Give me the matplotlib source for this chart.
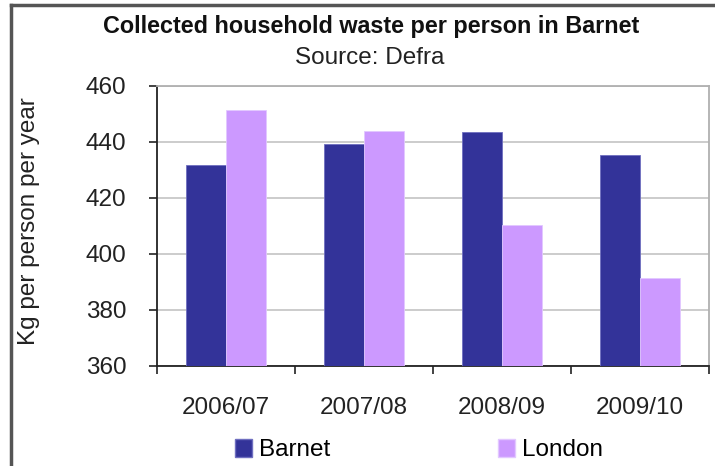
import numpy as np
import matplotlib.pyplot as plt
from matplotlib.patches import Patch
from matplotlib.lines import Line2D

plt.rcParams['font.family'] = ['Liberation Sans', 'DejaVu Sans']

# household waste, kg per person per year
years = ['2006/07', '2007/08', '2008/09', '2009/10']
barnet = [431.9, 439.4, 443.7, 435.5]
london = [451.5, 444.1, 410.3, 391.3]

col_barnet = '#333399'
col_london = '#cc99ff'
fs = 17.5

fig = plt.figure(figsize=(7.15, 4.66), dpi=100)
ax = fig.add_axes([157 / 715, 100 / 466, 552 / 715, 280 / 466])

x = np.arange(len(years))
w = 0.29
ax.bar(x - w / 2, barnet, w, bottom=0, color=col_barnet, edgecolor='#6f6fc0', linewidth=0.6, zorder=3)
ax.bar(x + w / 2, london, w, bottom=0, color=col_london, edgecolor='#e2c8ff', linewidth=0.6, zorder=3)

ax.set_xlim(-0.5, len(years) - 0.5)
ax.set_ylim(360, 460)
ax.set_yticks(np.arange(360, 461, 20))
ax.yaxis.grid(True, color='#c8c8c8', linewidth=1.3, zorder=0)

# ticks sit on the category boundaries, labels in the middle
ax.set_xticks(np.arange(-0.5, len(years), 1.0))
ax.set_xticklabels([])
ax.set_xticks(x, minor=True)
ax.set_xticklabels(years, minor=True, fontsize=fs)
ax.tick_params(axis='x', which='major', direction='out', length=6, width=1.2, color='#222222')
ax.tick_params(axis='x', which='minor', length=0, pad=22)
ax.tick_params(axis='y', direction='out', length=6, width=1.2, color='#222222', labelsize=fs, pad=16)
for lab in ax.get_yticklabels() + ax.get_xticklabels(minor=True):
    lab.set_color('#222222')

ax.spines['left'].set_color('#222222')
ax.spines['left'].set_linewidth(1.3)
ax.spines['bottom'].set_color('#222222')
ax.spines['bottom'].set_linewidth(1.3)
ax.spines['top'].set_color('#b0b0b0')
ax.spines['top'].set_linewidth(1.3)
ax.spines['right'].set_color('#b0b0b0')
ax.spines['right'].set_linewidth(1.3)

fig.text(371 / 715, 1 - 32.7 / 466, 'Collected household waste per person in Barnet',
         ha='center', va='baseline', fontsize=16.8, fontweight='bold', color='#111111')
fig.text(370 / 715, 1 - 64 / 466, 'Source: Defra',
         ha='center', va='baseline', fontsize=fs, color='#222222')
fig.text(29.5 / 715, 1 - 221 / 466, 'Kg per person per year',
         ha='center', va='center', rotation=90, fontsize=fs, color='#222222')

handles = [Patch(facecolor=col_barnet, edgecolor='#6f6fc0', label='Barnet'),
           Patch(facecolor=col_london, edgecolor='#e2c8ff', label='London')]
fig.legend(handles=handles, loc='center left', bbox_to_anchor=(234.6 / 715, 1 - 450 / 466),
           ncol=2, frameon=False, fontsize=fs, handlelength=0.7, handleheight=0.75,
           handletextpad=0.3, columnspacing=6.9, borderpad=0, borderaxespad=0)

# outer chart border (left and top edges)
fig.add_artist(Line2D([11 / 715, 11 / 715], [0, 1 - 5 / 466], color='#555555', linewidth=2.5))
fig.add_artist(Line2D([11 / 715, 1], [1 - 5 / 466, 1 - 5 / 466], color='#555555', linewidth=2.5))

fig.savefig('out.png', dpi=100, facecolor='white')
